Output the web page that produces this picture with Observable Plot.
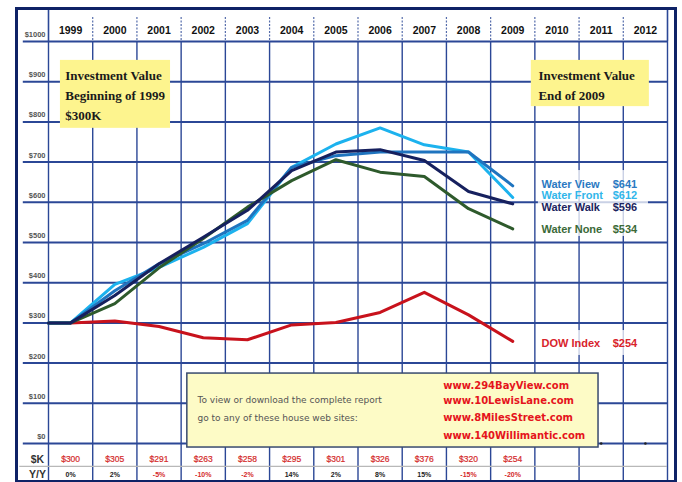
<!DOCTYPE html>
<html><head><meta charset="utf-8">
<script src="https://cdn.jsdelivr.net/npm/d3@7"></script>
<script src="https://cdn.jsdelivr.net/npm/@observablehq/plot@0.6"></script>
<style>body{margin:0;background:#fff} svg{display:block}</style>
</head><body><div id="chart"></div>
<script>
// ---- data ----
const years = [1999,2000,2001,2002,2003,2004,2005,2006,2007,2008,2009];
const headerYears = [1999,2000,2001,2002,2003,2004,2005,2006,2007,2008,2009,2010,2011,2012];
const startValue = 300;
const waterView  = [300,380,447,497,555,687,716,725,725,725,641];
const waterFront = [300,396,438,488,547,687,745,785,743,725,612];
const waterWalk  = [300,368,447,513,580,679,725,731,704,627,596];
const waterNone  = [300,348,437,510,588,654,706,675,664,584,534];
const dowIndex   = [300,305,291,263,258,295,301,326,376,320,254];
const yoyChange  = ["0%","2%","-5%","-10%","-2%","14%","2%","8%","15%","-15%","-20%"];
const yTicks = [0,100,200,300,400,500,600,700,800,900,1000];
const emptyYears = [2011,2012];
const seriesNames = ["Water Front","Water View","Water None","Water Walk"];
const seriesValues = [waterFront, waterView, waterNone, waterWalk];
const urls = ["www.294BayView.com","www.10LewisLane.com","www.8MilesStreet.com","www.140Willimantic.com"];

// ---- styling ----
const colors = {"Water View":"#1f74bf","Water Front":"#1cb2ee","Water Walk":"#16205e","Water None":"#2e5a2c","DOW Index":"#c8121c"};
const labelColors = {"Water View":"#2a79c2","Water Front":"#31b6ea","Water Walk":"#1b2460","Water None":"#3b6a38","DOW Index":"#d8232b"};
const labelY = {"Water View":644,"Water Front":617,"Water Walk":588,"Water None":532,"DOW Index":249};
const grid = "#2b4796";

const rows = [];
seriesNames.forEach((name,si) => {
  rows.push({series:name, year:1998.5, value:startValue});
  years.forEach((y,i) => rows.push({series:name, year:y, value:seriesValues[si][i]}));
});
const dowRows = years.map((y,i) => ({series:"DOW Index", year:y, value:dowIndex[i]}));
const labelRows = [
  {series:"Water View", end:"$641"},{series:"Water Front", end:"$612"},
  {series:"Water Walk", end:"$596"},{series:"Water None", end:"$534"},
  {series:"DOW Index", end:"$254"}
];
const bounds = d3.range(1998.5, 2013, 1);
const innerBounds = bounds.slice(1, -1);

const sans = "Liberation Sans, Arial, sans-serif";
const serif = "Liberation Serif, Times New Roman, serif";
const verd = "DejaVu Sans, Verdana, sans-serif";

const chart = Plot.plot({
  width: 682, height: 482,
  marginLeft: 16, marginRight: 7, marginTop: 8, marginBottom: 1,
  x: {type:"linear", domain:[1998.5, 2012.5], range:[48, 667], axis:null},
  y: {type:"linear", domain:[0, 1000], range:[443, 41], axis:null},
  style: {fontFamily: sans, background:"#fff"},
  marks: [
    // vertical grid
    Plot.ruleX(bounds, {x: d=>d, y1: 1000, y2: -95, stroke: grid, strokeWidth: 1.4}),
    Plot.ruleX(innerBounds, {x: d=>d, y1: 1060, y2: 1000, stroke: grid, strokeWidth: 1.2, strokeDasharray:"2,1.5", strokeOpacity:0.8}),
    Plot.ruleX([1998.5, 2012.5], {x: d=>d, y1: 1082, y2: 1000, stroke: grid, strokeWidth: 1.6}),
    // horizontal grid
    Plot.ruleY(yTicks, {y: d=>d, x1: 1997.93, x2: 2012.5, stroke: grid, strokeWidth: 2}),
    // table separator
    Plot.ruleY([-57], {x1: 1997.85, x2: 2012.5, stroke:"#b8b8b8", strokeWidth: 1.2}),
    // y labels
    Plot.text(yTicks, {x: 1998.5, y: d=>d, dx: -3, dy: -7, text: d=>"$"+d, textAnchor:"end", fontSize: 7.5, fontWeight:"bold", fill:"#555"}),
    // header years
    Plot.text(headerYears, {x: d=>d, y: 1000, dy: -11, text: d=>String(d), fontSize: 10.5, fontWeight:"bold", fill:"#111"}),
    // label backdrops
    Plot.rect([{x1:2009.58, x2:2012.07, y1:515, y2:679},{x1:2009.58, x2:2012.07, y1:219, y2:281}],
      {x1:"x1", x2:"x2", y1:"y1", y2:"y2", fill:"#fff", fillOpacity:0.75}),
    // lines
    Plot.line(dowRows, {x:"year", y:"value", stroke: colors["DOW Index"], strokeWidth: 3}),
    Plot.line(rows, {x:"year", y:"value", z:"series", stroke: d=>colors[d.series], strokeWidth: 3}),
    Plot.dot(emptyYears, {x: d=>d, y: 0, r: 1.3, fill:"#222"}),
    // end labels
    Plot.text(labelRows, {x: 2009.65, y: d=>labelY[d.series], text:"series", textAnchor:"start", fill: d=>labelColors[d.series], fontSize: 11, fontWeight:"bold"}),
    Plot.text(labelRows, {x: 2011.26, y: d=>labelY[d.series], text:"end", textAnchor:"start", fill: d=>labelColors[d.series], fontSize: 11, fontWeight:"bold"}),
    // yellow boxes
    Plot.rect([{x1:1998.77, x2:2001.26, y1:784, y2:953},{x1:2009.42, x2:2012.09, y1:838, y2:953}],
      {x1:"x1", x2:"x2", y1:"y1", y2:"y2", fill:"#fdf48e"}),
    Plot.text(["Investment Value","Beginning of 1999","$300K"], {x: 1998.88, y: (d,i)=>915 - i*49.7, text: d=>d, textAnchor:"start", fontFamily: serif, fontWeight:"bold", fontSize: 13, fill:"#1a1a1a"}),
    Plot.text(["Investment Value","End of 2009"], {x: 2009.58, y: (d,i)=>915 - i*49.7, text: d=>d, textAnchor:"start", fontFamily: serif, fontWeight:"bold", fontSize: 13, fill:"#1a1a1a"}),
    // footer box
    Plot.rect([{x1:2001.64, x2:2010.94, y1:-10, y2:174}], {x1:"x1", x2:"x2", y1:"y1", y2:"y2", fill:"#fdfbc6", stroke:"#394a6e", strokeWidth: 1.5}),
    Plot.text(["To view or download the complete report","go to any of these house web sites:"], {x: 2001.87, y:(d,i)=>107 - i*45, text:d=>d, textAnchor:"start", fontFamily: verd, fontSize: 9, fill:"#555"}),
    Plot.text(urls, {x: 2007.43, y:(d,i)=>[144,107,65,20][i], text:d=>d, textAnchor:"start", fontFamily: verd, fontWeight:"bold", fontSize: 10, fill:"#e5141c"}),
    // table
    Plot.text(["$K","Y/Y"], {x: 1998.25, y:(d,i)=>[-40,-77][i], text:d=>d, fontSize: 10.5, fontWeight:"bold", fill:"#333"}),
    Plot.text(years, {x: d=>d, y: -40, text: (d,i)=>"$"+dowIndex[i], fontSize: 8.5, fill:"#d42a2a", stroke:"#d42a2a", strokeWidth:0.2}),
    Plot.text(years, {x: d=>d, y: -77, text: (d,i)=>yoyChange[i], fontSize: 7, fontWeight:"bold", fill: (d,i)=>yoyChange[i].startsWith("-") ? "#d42a2a" : "#222"}),
    Plot.frame({stroke:"#0e2266", strokeWidth: 3})
  ]
});
document.getElementById("chart").appendChild(chart);
</script>
</body></html>
